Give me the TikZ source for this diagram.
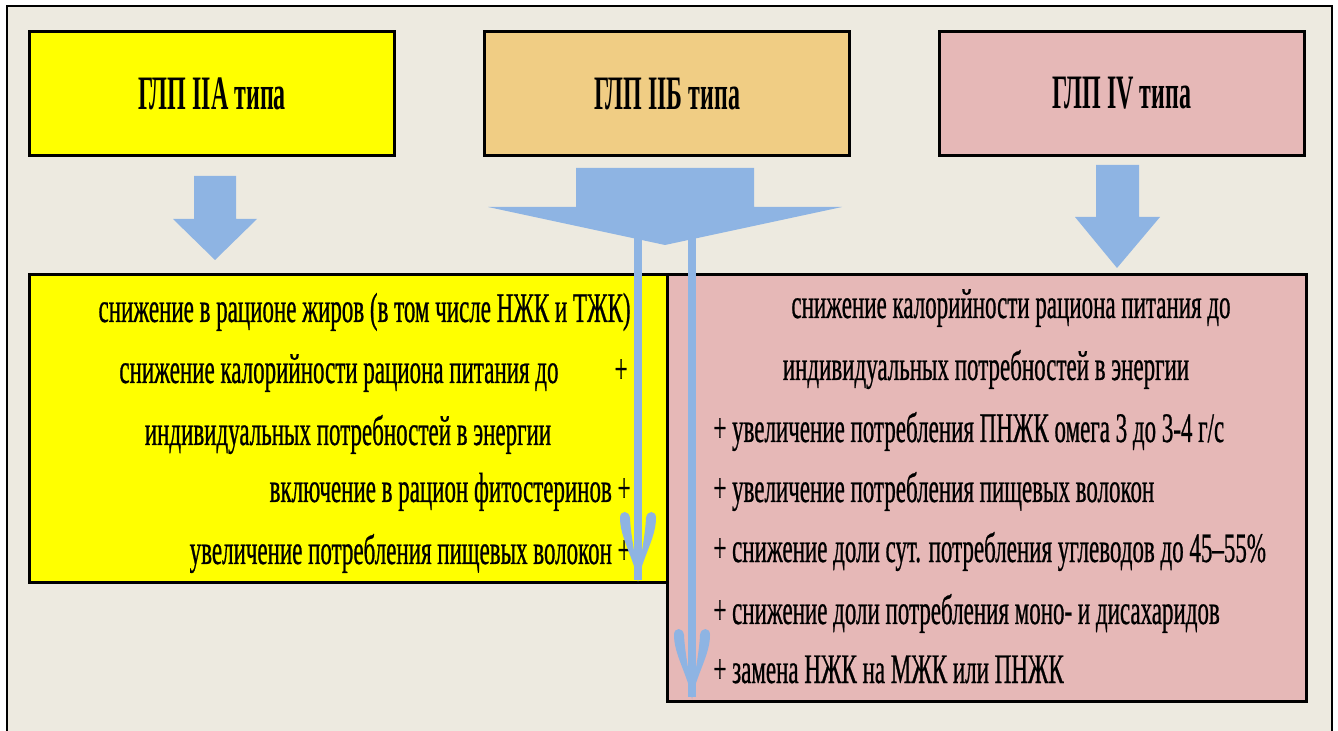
\documentclass[tikz,border=0pt]{standalone}
\usepackage{fontspec}
\newfontfamily\bodyfont{Liberation Serif}[FakeStretch=0.547,FakeBold=0.6]
\newfontfamily\titlefont{Liberation Serif}[FakeStretch=0.5]
\definecolor{bg}{HTML}{EDEAE0}
\definecolor{ylw}{HTML}{FFFF00}
\definecolor{tan}{HTML}{F0CD84}
\definecolor{pnk}{HTML}{E6B8B7}
\definecolor{arr}{HTML}{8EB4E3}
\tikzset{
  box/.style={draw=black, line width=1.6pt, inner sep=0pt},
  ttl/.style={font=\titlefont\bfseries\fontsize{24}{28}\selectfont, inner sep=0pt},
  txt/.style={font=\bodyfont\fontsize{21}{25}\selectfont, inner sep=0pt},
  blk/.style={fill=arr, draw=none},
  shaft/.style={draw=arr, line width=3.6pt},
}
\newcommand\barbhead{%
  \fill[arr] (0,2) .. controls (-4,-22) and (-18,-42) .. (-18,-62) .. controls (-18,-70) and (-9,-70) .. (-8,-62) .. controls (-7,-42) and (-2,-22) .. cycle;
  \fill[arr] (0,2) .. controls (4,-22) and (18,-42) .. (18,-62) .. controls (18,-70) and (9,-70) .. (8,-62) .. controls (7,-42) and (2,-22) .. cycle;
}
\begin{document}
\begin{tikzpicture}[x=0.5pt,y=-0.5pt]
\useasboundingbox (0,0) rectangle (1338,731);
\fill[white] (0,0) rectangle (1338,731);
\draw[fill=bg, line width=1pt] (7,6) rectangle (1332,745);

% top boxes
\node[box, fill=ylw, minimum width=182.5pt, minimum height=62pt, anchor=north west] (t1) at (28,30) {};
\node[box, fill=tan, minimum width=182.5pt, minimum height=62pt, anchor=north west] (t2) at (483,30) {};
\node[box, fill=pnk, minimum width=182.5pt, minimum height=62pt, anchor=north west] (t3) at (938,30) {};
\node[ttl] (tt1) at (t1.center) {ГЛП IIА типа};
\node[ttl] (tt2) at (t2.center) {ГЛП IIБ типа};
\node[ttl] (tt3) at (t3.center) {ГЛП IV типа};

% block arrows
\fill[blk] (194,176) -- (236,176) -- (236,219) -- (257,219) -- (215,260) -- (173,219) -- (194,219) -- cycle;
\fill[blk] (1096,165) -- (1139,165) -- (1139,217) -- (1160,217) -- (1117,268) -- (1075,217) -- (1096,217) -- cycle;
\fill[blk] (576,168) -- (754,168) -- (754,207) -- (842,207) -- (665,245) -- (488,207) -- (576,207) -- cycle;

% lower boxes
\node[box, fill=ylw, minimum width=319pt, minimum height=154pt, anchor=north west] (b1) at (28,273) {};
\node[box, fill=pnk, minimum width=319.5pt, minimum height=213.5pt, anchor=north west] (b2) at (666,273) {};

% left texts
\node[txt, anchor=base east] (l1) at (631,322) {снижение в рационе жиров (в том числе НЖК и ТЖК)};
\node[txt, anchor=base west] (l2) at (119,383) {снижение калорийности рациона питания до};
\node[txt, anchor=base east] (l2p) at (628,383) {+};
\node[txt, anchor=base] (l3) at (348,445) {индивидуальных потребностей в энергии};
\node[txt, anchor=base east] (l4) at (631,502) {включение в рацион фитостеринов +};
\node[txt, anchor=base east] (l5) at (631,564) {увеличение потребления пищевых волокон +};

% right texts
\node[txt, anchor=base] (r1) at (1011,318) {снижение калорийности рациона питания до};
\node[txt, anchor=base] (r2) at (986,380) {индивидуальных потребностей в энергии};
\node[txt, anchor=base west] (r3) at (713,442) {+ увеличение потребления ПНЖК омега 3 до 3-4 г/с};
\node[txt, anchor=base west] (r4) at (713,502) {+ увеличение потребления пищевых волокон};
\node[txt, anchor=base west] (r5) at (713,562) {+ снижение доли сут. потребления углеводов до 45–55\%};
\node[txt, anchor=base west] (r6) at (713,624) {+ снижение доли потребления моно- и дисахаридов};
\node[txt, anchor=base west] (r7) at (713,683) {+ замена НЖК на МЖК или ПНЖК};

% thin arrows
\coordinate (s1) at (638,236);
\coordinate (e1) at (638,580);
\coordinate (s2) at (692,236);
\coordinate (e2) at (692,697);
\draw[shaft] (s1) -- (e1);
\draw[shaft] (s2) -- (e2);
\begin{scope}[shift={(e1)}]\barbhead\end{scope}
\begin{scope}[shift={(e2)}]\barbhead\end{scope}
\end{tikzpicture}
\end{document}
